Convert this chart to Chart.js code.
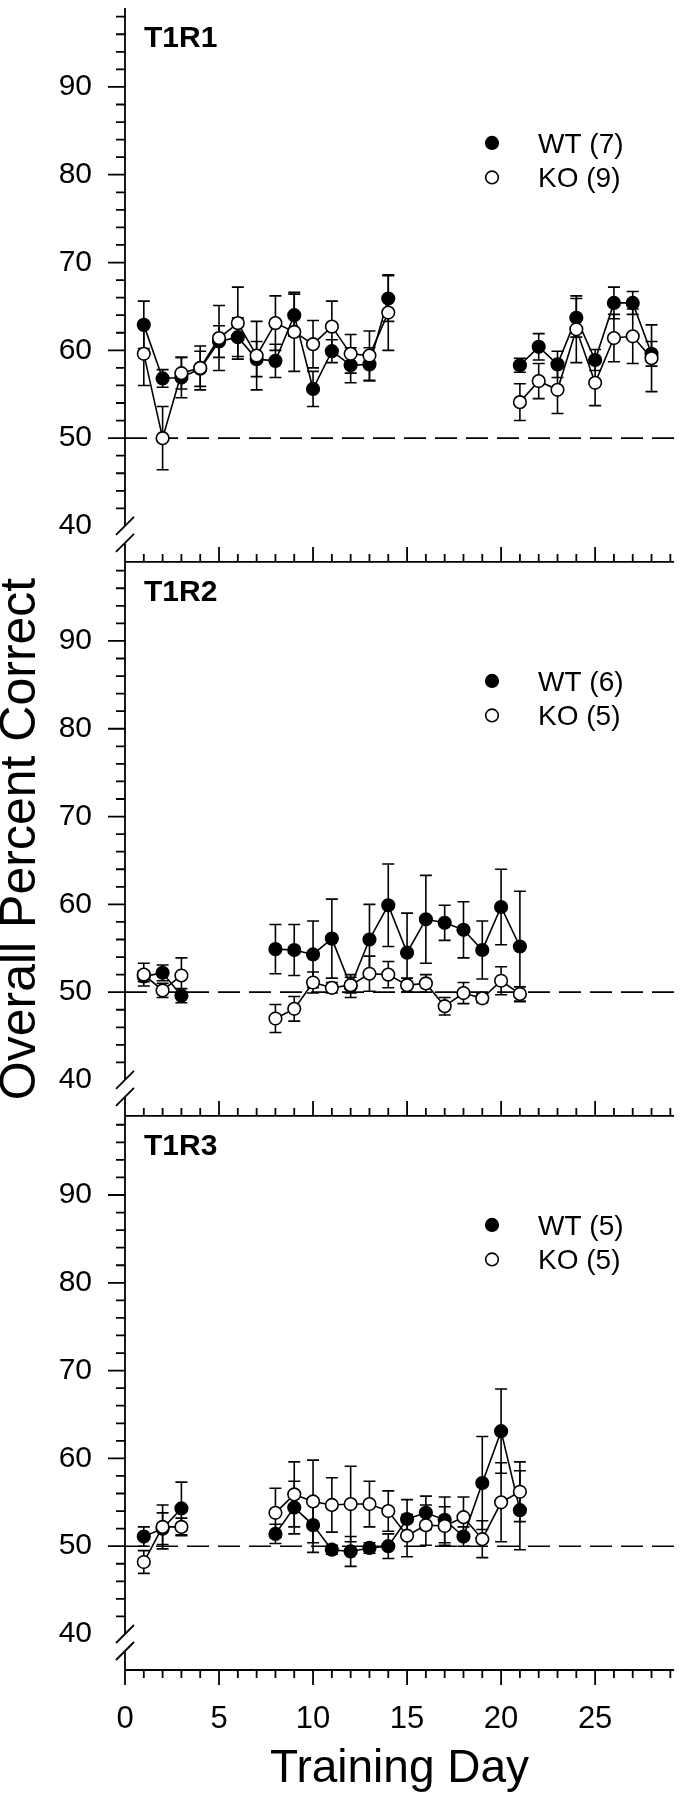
<!DOCTYPE html>
<html>
<head>
<meta charset="utf-8">
<script src="https://cdn.jsdelivr.net/npm/chart.js@4.4.0/dist/chart.umd.min.js"></script>
<style>
  html, body { margin: 0; padding: 0; background: #fff; }
  #wrap { width: 682px; height: 1800px; }
</style>
</head>
<body>
<div id="wrap"><canvas id="training" width="682" height="1800"></canvas></div>
<script>
// training days (x) and panel data, null = no session that day
const days = [1, 2, 3, 4, 5, 6, 7, 8, 9, 10, 11, 12, 13, 14,
              15, 16, 17, 18, 19, 20, 21, 22, 23, 24, 25, 26, 27, 28];

const panelNames = ['T1R1', 'T1R2', 'T1R3'];
const wtLabels = ['WT (7)', 'WT (6)', 'WT (5)'];
const koLabels = ['KO (9)', 'KO (5)', 'KO (5)'];

// T1R1
const wtT1R1 = [62.9, 56.8, 56.9, 57.9, 61.0, 61.5, 59.0, 58.8, 64.0, 55.6, 59.9, 58.3, 58.4, 65.9,
                null, null, null, null, null, null, 58.3, 60.4, 58.4, 63.7, 58.9, 65.4, 65.4, 59.6];
const wtT1R1Err = [2.7, 1.0, 2.3, 2.0, 1.8, 2.2, 2.0, 1.9, 2.4, 2.0, 1.3, 2.0, 1.9, 2.6,
                   null, null, null, null, null, null, 0.8, 1.5, 1.5, 2.2, 1.2, 1.8, 1.3, 1.4];
const koT1R1 = [59.6, 50.0, 57.4, 58.0, 61.4, 63.1, 59.4, 63.1, 62.1, 60.7, 62.7, 59.6, 59.4, 64.3,
                null, null, null, null, null, null, 54.1, 56.5, 55.5, 62.4, 56.3, 61.4, 61.6, 59.1];
const koT1R1Err = [3.6, 3.6, 1.8, 2.5, 3.7, 4.1, 3.9, 3.1, 4.5, 2.7, 2.9, 2.2, 2.8, 4.3,
                   null, null, null, null, null, null, 2.1, 2.0, 2.7, 3.8, 2.6, 2.7, 3.1, 3.8];

// T1R2
const wtT1R2 = [51.8, 52.2, 49.6, null, null, null, null, 54.9, 54.8, 54.3, 56.1, 50.7, 56.0, 59.9,
                54.5, 58.3, 57.9, 57.1, 54.8, 59.7, 55.2, null, null, null, null, null, null, null];
const wtT1R2Err = [0.6, 0.9, 0.8, null, null, null, null, 2.8, 2.9, 3.8, 4.5, 1.3, 4.0, 4.7,
                   4.5, 5.0, 2.0, 3.2, 3.3, 4.3, 6.3, null, null, null, null, null, null, null];
const koT1R2 = [52.0, 50.2, 51.9, null, null, null, null, 47.0, 48.1, 51.1, 50.5, 50.8, 52.1, 52.0,
                50.8, 51.0, 48.4, 49.9, 49.3, 51.3, 49.8, null, null, null, null, null, null, null];
const koT1R2Err = [1.3, 0.8, 2.0, null, null, null, null, 1.6, 1.4, 1.2, 0.6, 0.9, 2.0, 1.5,
                   0.8, 1.0, 1.0, 1.2, 0.5, 1.6, 0.8, null, null, null, null, null, null, null];

// T1R3
const wtT1R3 = [51.1, 52.0, 54.3, null, null, null, null, 51.4, 54.4, 52.4, 49.6, 49.4, 49.8, 50.0,
                53.1, 53.8, 53.0, 51.1, 57.2, 63.1, 54.1, null, null, null, null, null, null, null];
const wtT1R3Err = [1.1, 1.8, 3.0, null, null, null, null, 1.1, 3.0, 3.1, 0.5, 1.7, 0.6, 1.4,
                   2.2, 1.9, 2.6, 1.1, 5.3, 4.8, 4.5, null, null, null, null, null, null, null];
const koT1R3 = [48.2, 52.2, 52.2, null, null, null, null, 53.8, 55.9, 55.1, 54.7, 54.8, 54.8, 54.0,
                51.2, 52.4, 52.3, 53.3, 50.8, 55.0, 56.2, null, null, null, null, null, null, null];
const koT1R3Err = [1.3, 2.5, 1.0, null, null, null, null, 2.8, 3.7, 4.7, 3.1, 4.3, 2.6, 2.3,
                   2.4, 2.3, 2.2, 2.3, 2.1, 4.5, 3.4, null, null, null, null, null, null, null];

const xTickLabels = [0, 5, 10, 15, 20, 25];
const yTickLabels = [40, 50, 60, 70, 80, 90];
const chanceLevel = 50;

const FONT = "'Liberation Sans', Arial, Helvetica, sans-serif";
const panelIds = ['yA', 'yB', 'yC'];
const legendTop = [135, 119, 109];

Chart.defaults.font.family = FONT;
Chart.defaults.color = '#000';

function points(vals) {
    return days.map((d, i) => ({ x: d, y: vals[i] }));
}

function series(label, vals, errs, yId, filled) {
    return {
        label: label,
        data: points(vals),
        errors: errs,
        yAxisID: yId,
        borderColor: '#000',
        borderWidth: 1.6,
        backgroundColor: filled ? '#000' : '#fff',
        pointBackgroundColor: filled ? '#000' : '#fff',
        pointBorderColor: '#000',
        pointBorderWidth: 1.6,
        pointRadius: 6.3,
        pointHoverRadius: 6.3,
        tension: 0,
        spanGaps: false,
        fill: false,
        order: filled ? 2 : 1
    };
}

function yScale(weight, title) {
    return {
        type: 'linear',
        position: 'left',
        stack: 'panels',
        stackWeight: 1,
        weight: weight,
        min: 35.9,
        max: 99.0,
        grid: { display: false, drawTicks: false },
        border: { display: false },
        ticks: {
            color: '#000',
            padding: 33,
            font: { size: 30, family: FONT }
        },
        afterBuildTicks: (s) => { s.ticks = yTickLabels.map(v => ({ value: v })); },
        afterFit: (s) => { s.width = 125; s.paddingTop = 0; s.paddingBottom = 0; },
        title: title ? {
            display: true,
            text: title,
            color: '#000',
            padding: 0,
            font: { size: 50, family: FONT, lineHeight: 0.85 }
        } : { display: false }
    };
}

// chance line, error bars, axes with breaks, panel names and legends
const figurePlugin = {
    id: 'figurePlugin',
    beforeDatasetsDraw(chart) {
        const ctx = chart.ctx;
        const area = chart.chartArea;
        const xs = chart.scales.x;
        ctx.save();
        ctx.strokeStyle = '#000';
        ctx.lineWidth = 1.6;
        ctx.setLineDash([22, 9]);
        panelIds.forEach(id => {
            const y = chart.scales[id].getPixelForValue(chanceLevel);
            ctx.beginPath();
            ctx.moveTo(area.left, y);
            ctx.lineTo(area.right, y);
            ctx.stroke();
        });
        ctx.setLineDash([]);
        chart.data.datasets.forEach(ds => {
            const ys = chart.scales[ds.yAxisID];
            ctx.beginPath();
            ds.data.forEach((p, i) => {
                const e = ds.errors[i];
                if (p.y === null || e === null) return;
                const px = xs.getPixelForValue(p.x);
                const top = ys.getPixelForValue(p.y + e);
                const bot = ys.getPixelForValue(p.y - e);
                ctx.moveTo(px, top); ctx.lineTo(px, bot);
                ctx.moveTo(px - 6, top); ctx.lineTo(px + 6, top);
                ctx.moveTo(px - 6, bot); ctx.lineTo(px + 6, bot);
            });
            ctx.stroke();
        });
        ctx.restore();
    },
    afterDraw(chart) {
        const ctx = chart.ctx;
        const area = chart.chartArea;
        const xs = chart.scales.x;
        const left = area.left;
        ctx.save();
        ctx.strokeStyle = '#000';
        ctx.fillStyle = '#000';
        panelIds.forEach((id, p) => {
            const s = chart.scales[id];
            const c1 = s.getPixelForValue(40);
            const c2 = c1 + 17;
            ctx.lineWidth = 1.8;
            ctx.beginPath();
            ctx.moveTo(left, s.top); ctx.lineTo(left, c1);
            ctx.moveTo(left, c2); ctx.lineTo(left, s.bottom);
            [c1, c2].forEach(c => { ctx.moveTo(left - 9, c + 9); ctx.lineTo(left + 9, c - 9); });
            for (let v = 42; v <= 98; v += 2) {
                const y = s.getPixelForValue(v);
                const len = v % 10 === 0 ? 17 : 9;
                ctx.moveTo(left - len, y); ctx.lineTo(left, y);
            }
            const base = s.bottom;
            ctx.moveTo(left, base); ctx.lineTo(area.right, base);
            const dir = p === panelIds.length - 1 ? 1 : -1;
            for (let d = 0; d <= 29; d++) {
                const px = xs.getPixelForValue(d);
                const len = d % 5 === 0 ? 15 : 8;
                ctx.moveTo(px, base); ctx.lineTo(px, base + dir * len);
            }
            ctx.stroke();

            ctx.font = 'bold 30px ' + FONT;
            ctx.textBaseline = 'alphabetic';
            ctx.textAlign = 'left';
            ctx.fillText(panelNames[p], 144, s.top + 39);

            const ly = s.top + legendTop[p];
            ctx.lineWidth = 1.6;
            ctx.beginPath();
            ctx.arc(492, ly, 6.3, 0, Math.PI * 2);
            ctx.fillStyle = '#000';
            ctx.fill(); ctx.stroke();
            ctx.beginPath();
            ctx.arc(492, ly + 34.5, 6.3, 0, Math.PI * 2);
            ctx.fillStyle = '#fff';
            ctx.fill(); ctx.stroke();
            ctx.fillStyle = '#000';
            ctx.font = '28px ' + FONT;
            ctx.fillText(wtLabels[p], 538, ly + 10);
            ctx.fillText(koLabels[p], 538, ly + 44.5);
        });
        ctx.restore();
    }
};

const ctx = document.getElementById('training').getContext('2d');
const chart = new Chart(ctx, {
    type: 'line',
    data: {
        datasets: [
            series(wtLabels[0], wtT1R1, wtT1R1Err, 'yA', true),
            series(koLabels[0], koT1R1, koT1R1Err, 'yA', false),
            series(wtLabels[1], wtT1R2, wtT1R2Err, 'yB', true),
            series(koLabels[1], koT1R2, koT1R2Err, 'yB', false),
            series(wtLabels[2], wtT1R3, wtT1R3Err, 'yC', true),
            series(koLabels[2], koT1R3, koT1R3Err, 'yC', false)
        ]
    },
    options: {
        responsive: false,
        animation: false,
        events: [],
        layout: { padding: { top: 3, right: 1, left: 0, bottom: 0 } },
        plugins: {
            legend: { display: false },
            tooltip: { enabled: false }
        },
        scales: {
            x: {
                type: 'linear',
                position: 'bottom',
                min: 0,
                max: 29.2,
                grid: { display: false, drawTicks: false },
                border: { display: false },
                ticks: {
                    color: '#000',
                    padding: 31,
                    font: { size: 31, family: FONT }
                },
                afterBuildTicks: (s) => { s.ticks = xTickLabels.map(v => ({ value: v })); },
                afterFit: (s) => { s.height = 130; s.paddingLeft = 0; s.paddingRight = 0; },
                title: {
                    display: true,
                    text: 'Training Day',
                    color: '#000',
                    padding: { top: 0, bottom: 8 },
                    font: { size: 46, family: FONT, lineHeight: 1 }
                }
            },
            yA: yScale(3, null),
            yB: yScale(2, 'Overall Percent Correct'),
            yC: yScale(1, null)
        }
    },
    plugins: [figurePlugin]
});
</script>
</body>
</html>
